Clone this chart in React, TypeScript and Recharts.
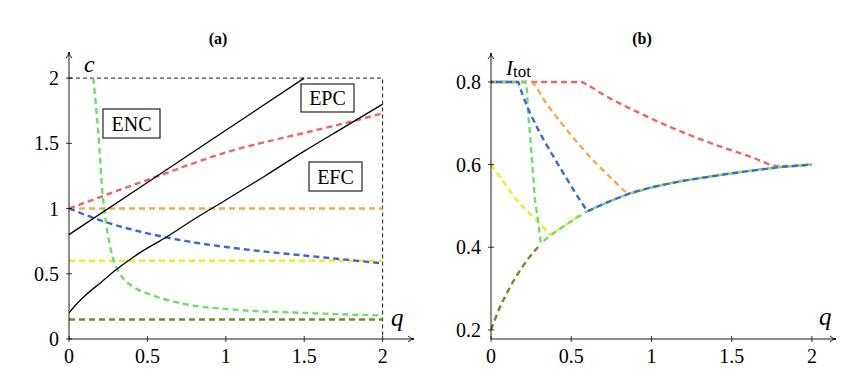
import { LineChart, Line, XAxis, YAxis, ReferenceDot } from 'recharts';

const FONT = "'Liberation Serif', 'Times New Roman', serif";

// ---- panel (a): c against q ----
const aTicks = [0, 0.5, 1, 1.5, 2];

const aUpperQ = [0, 0.5, 1, 1.5];
const aUpperC = [0.8, 1.2, 1.6, 2.0];

const aLowerQ = [0, 0.05, 0.1, 0.2, 0.3, 0.45, 0.62, 0.8, 1, 1.25, 1.5, 1.75, 2];
const aLowerC = [0.2, 0.27, 0.33, 0.43, 0.53, 0.66, 0.78, 0.92, 1.065, 1.25, 1.44, 1.62, 1.8];

const aFrameQ = [0, 2, 2];
const aFrameC = [2, 2, 0];

const aRedQ = [0, 0.57, 1, 1.5, 1.81, 2];
const aRedC = [1, 1.25, 1.43, 1.58, 1.67, 1.73];

const aOrangeQ = [0, 2];
const aOrangeC = [1, 1];

const aBlueQ = [0, 0.25, 0.5, 0.75, 1, 1.25, 1.5, 1.75, 2];
const aBlueC = [1, 0.89, 0.81, 0.75, 0.705, 0.67, 0.64, 0.61, 0.58];

const aYellowQ = [0, 2];
const aYellowC = [0.6, 0.6];

const aGreenQ = [0.155, 0.187, 0.215, 0.235, 0.26, 0.28, 0.325, 0.41, 0.52, 0.73, 1.05, 1.5, 2];
const aGreenC = [2.0, 1.58, 1.1, 0.9, 0.72, 0.62, 0.5, 0.4, 0.34, 0.27, 0.225, 0.2, 0.18];

const aOliveQ = [0, 2];
const aOliveC = [0.15, 0.15];

// ---- panel (b): I_tot against q ----
const bXTicks = [0, 0.5, 1, 1.5, 2];
const bYTicks = [0.2, 0.4, 0.6, 0.8];

const bRedQ = [0, 0.56, 0.6, 0.68, 0.99, 1.3, 1.61, 1.8, 2];
const bRedI = [0.8, 0.8, 0.793, 0.774, 0.713, 0.662, 0.62, 0.596, 0.6];

const bOrangeQ = [0, 0.243, 0.35, 0.45, 0.55, 0.65, 0.75, 0.866, 1, 1.2, 1.5, 1.8, 2];
const bOrangeI = [0.8, 0.8, 0.745, 0.695, 0.648, 0.605, 0.567, 0.531, 0.545, 0.561, 0.579, 0.594, 0.6];

const bYellowQ = [0, 0.16, 0.37, 0.4, 0.5, 0.56];
const bYellowI = [0.6, 0.514, 0.43, 0.437, 0.463, 0.481];

const bBlueQ = [0, 0.17, 0.2, 0.243, 0.305, 0.38, 0.45, 0.52, 0.6, 0.75, 0.87, 1, 1.2, 1.5, 1.8, 2];
const bBlueI = [0.8, 0.8, 0.765, 0.725, 0.676, 0.625, 0.58, 0.535, 0.487, 0.513, 0.531, 0.545, 0.561, 0.579, 0.594, 0.6];

const bGreenQ = [0, 0.215, 0.224, 0.23, 0.243, 0.274, 0.293, 0.31, 0.4, 0.5, 0.6, 0.75, 0.87, 1, 1.2, 1.5, 1.8, 2];
const bGreenI = [0.8, 0.8, 0.78, 0.73, 0.676, 0.514, 0.466, 0.41, 0.437, 0.463, 0.487, 0.513, 0.531, 0.545, 0.561, 0.579, 0.594, 0.6];

const bOliveQ = [0, 0.05, 0.1, 0.15, 0.2, 0.3, 0.31];
const bOliveI = [0.2, 0.25, 0.29, 0.325, 0.355, 0.403, 0.407];

const COLORS = {
  red: '#f26463',
  orange: '#f9a84a',
  blue: '#3b66de',
  yellow: '#f3ec1f',
  green: '#70dc70',
  olive: '#6b8e23',
};

const pts = (qs: number[], vs: number[]) => qs.map((q, i) => ({ q, v: vs[i] }));

const fmt = (v: number) => String(v);

const XTick = (props: any) => {
  const { x, y, payload } = props;
  return (
    <g>
      <line x1={x} x2={x} y1={y - 3} y2={y + 3} stroke="#000" strokeWidth={0.8} />
      <text x={x} y={y + 24} textAnchor="middle" fontSize={20} fontFamily={FONT} fill="#000">
        {fmt(payload.value)}
      </text>
    </g>
  );
};

const YTick = (props: any) => {
  const { x, y, payload } = props;
  return (
    <g>
      <line x1={x - 3} x2={x + 3} y1={y} y2={y} stroke="#000" strokeWidth={0.8} />
      <text x={x - 10} y={y + 7} textAnchor="end" fontSize={20} fontFamily={FONT} fill="#000">
        {fmt(payload.value)}
      </text>
    </g>
  );
};

const arrowRight = (p: any) => (
  <path d={`M${p.cx - 6},${p.cy - 3} Q${p.cx - 3},${p.cy} ${p.cx},${p.cy} Q${p.cx - 3},${p.cy} ${p.cx - 6},${p.cy + 3}`} stroke="#000" strokeWidth={0.9} fill="none" />
);
const arrowUp = (p: any) => (
  <path d={`M${p.cx - 3},${p.cy + 6} Q${p.cx},${p.cy + 3} ${p.cx},${p.cy} Q${p.cx},${p.cy + 3} ${p.cx + 3},${p.cy + 6}`} stroke="#000" strokeWidth={0.9} fill="none" />
);

const dashed = (key: string, data: any[], color: string, curve: any = 'monotone', offset = 0) => (
  <Line
    key={key}
    data={data}
    dataKey="v"
    type={curve}
    stroke={color}
    strokeWidth={2.4}
    strokeDasharray="6 4"
    strokeDashoffset={offset}
    dot={false}
    activeDot={false}
    isAnimationActive={false}
  />
);

const axisLine = { stroke: '#000', strokeWidth: 0.9 };

function PanelA() {
  return (
    <LineChart width={440} height={374} margin={{ top: 52, right: 26, left: 29, bottom: 5 }}>
      <XAxis
        dataKey="q"
        type="number"
        domain={[0, 2.2]}
        ticks={aTicks}
        interval={0}
        tick={<XTick />}
        tickLine={false}
        tickSize={0}
        tickMargin={0}
        axisLine={axisLine}
        height={30}
        allowDataOverflow
      />
      <YAxis
        type="number"
        domain={[0, 2.2]}
        ticks={aTicks}
        interval={0}
        tick={<YTick />}
        tickLine={false}
        tickSize={0}
        tickMargin={0}
        axisLine={axisLine}
        width={40}
        allowDataOverflow
      />
      <Line data={pts(aFrameQ, aFrameC)} dataKey="v" type="linear" stroke="#000" strokeWidth={0.9} strokeDasharray="4 3" dot={false} activeDot={false} isAnimationActive={false} />
      {dashed('olive', pts(aOliveQ, aOliveC), COLORS.olive, 'linear')}
      {dashed('yellow', pts(aYellowQ, aYellowC), COLORS.yellow, 'linear')}
      {dashed('orange', pts(aOrangeQ, aOrangeC), COLORS.orange, 'linear')}
      {dashed('blue', pts(aBlueQ, aBlueC), COLORS.blue)}
      {dashed('red', pts(aRedQ, aRedC), COLORS.red)}
      {dashed('green', pts(aGreenQ, aGreenC), COLORS.green)}
      <Line data={pts(aUpperQ, aUpperC)} dataKey="v" type="linear" stroke="#000" strokeWidth={1.3} dot={false} activeDot={false} isAnimationActive={false} />
      <Line data={pts(aLowerQ, aLowerC)} dataKey="v" type="monotone" stroke="#000" strokeWidth={1.3} dot={false} activeDot={false} isAnimationActive={false} />
      <ReferenceDot x={2.2} y={0} r={0} ifOverflow="visible" shape={arrowRight} />
      <ReferenceDot x={0} y={2.2} r={0} ifOverflow="visible" shape={arrowUp} />
    </LineChart>
  );
}

function PanelB() {
  return (
    <LineChart width={422} height={374} margin={{ top: 53, right: 26, left: 6, bottom: 5 }}>
      <XAxis
        dataKey="q"
        type="number"
        domain={[0, 2.15]}
        ticks={bXTicks}
        interval={0}
        tick={<XTick />}
        tickLine={false}
        tickSize={0}
        tickMargin={0}
        axisLine={axisLine}
        height={30}
        allowDataOverflow
      />
      <YAxis
        type="number"
        domain={[0.178, 0.87]}
        ticks={bYTicks}
        interval={0}
        tick={<YTick />}
        tickLine={false}
        tickSize={0}
        tickMargin={0}
        axisLine={axisLine}
        width={45}
        allowDataOverflow
      />
      {dashed('red', pts(bRedQ, bRedI), COLORS.red)}
      {dashed('orange', pts(bOrangeQ, bOrangeI), COLORS.orange)}
      {dashed('yellow', pts(bYellowQ, bYellowI), COLORS.yellow, 'linear')}
      {dashed('green', pts(bGreenQ, bGreenI), COLORS.green, 'linear')}
      {dashed('blue', pts(bBlueQ, bBlueI), COLORS.blue, 'linear', 5)}
      {dashed('olive', pts(bOliveQ, bOliveI), COLORS.olive)}
      <ReferenceDot x={2.15} y={0.178} r={0} ifOverflow="visible" shape={arrowRight} />
      <ReferenceDot x={0} y={0.87} r={0} ifOverflow="visible" shape={arrowUp} />
    </LineChart>
  );
}

const Box = ({ x, y, w, h, label }: { x: number; y: number; w: number; h: number; label: string }) => (
  <g>
    <rect x={x} y={y} width={w} height={h} fill="#fff" stroke="#333" strokeWidth={1.3} />
    <text x={x + w / 2} y={y + h / 2 + 7} textAnchor="middle" fontSize={20} fontFamily={FONT} fill="#000">
      {label}
    </text>
  </g>
);

export default function App() {
  return (
    <div style={{ position: 'absolute', left: 0, top: 0, width: 862, height: 374, background: '#fff' }}>
      <div style={{ position: 'absolute', left: 0, top: 0 }}>
        <PanelA />
      </div>
      <div style={{ position: 'absolute', left: 440, top: 0 }}>
        <PanelB />
      </div>
      <svg width={862} height={374} style={{ position: 'absolute', left: 0, top: 0, pointerEvents: 'none' }}>
        <text x={218} y={44} textAnchor="middle" fontSize={16} fontWeight="bold" fontFamily={FONT}>(a)</text>
        <text x={642} y={44} textAnchor="middle" fontSize={16} fontWeight="bold" fontFamily={FONT}>(b)</text>
        <text x={84} y={72} fontSize={24} fontStyle="italic" fontFamily={FONT}>c</text>
        <text x={391} y={326} fontSize={25} fontStyle="italic" fontFamily={FONT}>q</text>
        <text x={819} y={325} fontSize={25} fontStyle="italic" fontFamily={FONT}>q</text>
        <text x={506} y={75} fontFamily={FONT}>
          <tspan fontSize={21} fontStyle="italic">I</tspan>
          <tspan fontSize={17} dy={2}>tot</tspan>
        </text>
        <Box x={103} y={109} w={57} h={29} label="ENC" />
        <Box x={301} y={84} w={53} h={28} label="EPC" />
        <Box x={309} y={162} w={53} h={29} label="EFC" />
      </svg>
    </div>
  );
}
